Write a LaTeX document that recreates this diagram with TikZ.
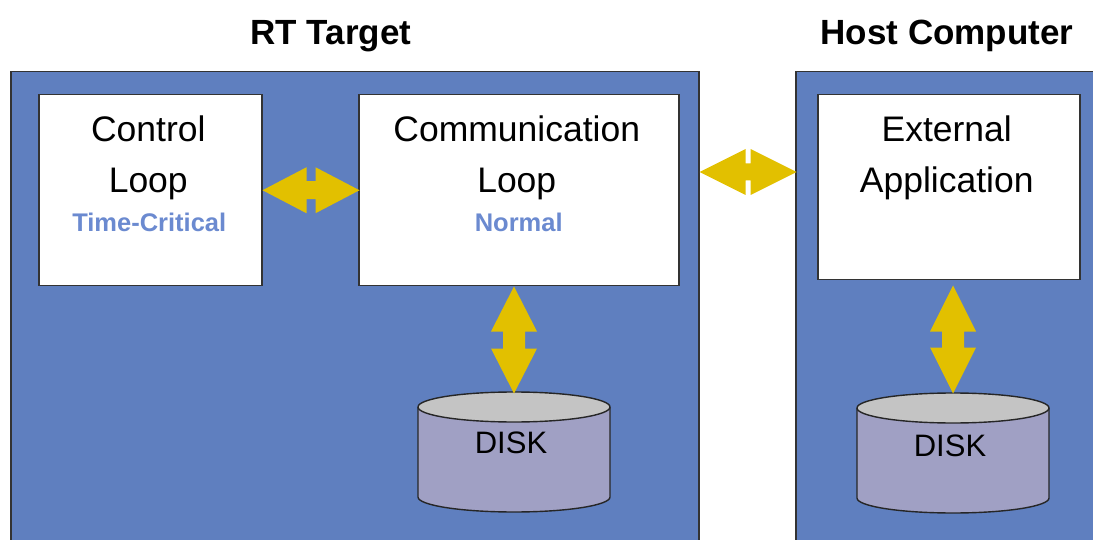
\documentclass[tikz,border=0pt]{standalone}
\usepackage{fontspec}
\setmainfont{Liberation Sans}
\usetikzlibrary{calc}
\definecolor{panelblue}{HTML}{5F7FBF}
\definecolor{arrowyellow}{HTML}{E2C000}
\definecolor{subblue}{HTML}{6B8AD0}
\definecolor{diskbody}{HTML}{A0A0C4}
\definecolor{disktop}{HTML}{C4C4C4}
\tikzset{
  panel/.style={draw=black!80, line width=1.5pt, fill=panelblue, anchor=north west, inner sep=0pt},
  loopbox/.style={draw=black!80, line width=1.5pt, fill=white, anchor=north west, inner sep=0pt},
  title/.style={font=\fontsize{35}{42}\selectfont\bfseries, anchor=base, inner sep=0pt},
  boxtext/.style={font=\fontsize{35.5}{51}\selectfont, align=center, anchor=north, inner sep=0pt},
  subtext/.style={font=\fontsize{25.5}{30}\selectfont\bfseries, text=subblue, anchor=base, inner sep=0pt},
  disklabel/.style={font=\fontsize{31}{36}\selectfont, anchor=base, inner sep=0pt},
  diskline/.style={draw=black!85, line width=1.4pt},
  % double-headed block arrow: length, head length, head half-width, shaft half-width
  pics/dblarrow/.style n args={4}{code={
    \fill[arrowyellow] (0,0) -- (#2,#3) -- (#2,#4) -- (#1-#2,#4) -- (#1-#2,#3) -- (#1,0)
      -- (#1-#2,-#3) -- (#1-#2,-#4) -- (#2,-#4) -- (#2,-#3) -- cycle;
  }},
  % disk cylinder, origin at the centre of the top face
  pics/disk/.style={code={
    \fill[diskbody] (-96,0) -- (-96,-90) arc[start angle=180, end angle=360, x radius=96, y radius=15] -- (96,0) -- cycle;
    \draw[diskline] (-96,0) -- (-96,-90) arc[start angle=180, end angle=360, x radius=96, y radius=15] -- (96,0);
    \filldraw[fill=disktop, diskline] (0,0) ellipse[x radius=96, y radius=15];
  }},
}
\begin{document}
\begin{tikzpicture}[x=1pt, y=1pt]
\useasboundingbox (0,0) rectangle (1093,-540);
\clip (0,0) rectangle (1093,-540);

% titles
\node[title] (rtT) at (331,-45) {RT Target};
\node[title] (hostT) at (947,-45) {Host Computer};

% panels
\node[panel, minimum width=688pt, minimum height=500pt] (rt) at (10,-71) {};
\node[panel, minimum width=320pt, minimum height=500pt] (host) at (795,-71) {};

% loop boxes
\node[loopbox, minimum width=223pt, minimum height=191pt] (ctrl) at (38,-94) {};
\node[loopbox, minimum width=320pt, minimum height=191pt] (comm) at (358,-94) {};
\node[loopbox, minimum width=262pt, minimum height=185pt] (ext) at (817,-94) {};

\node[boxtext] (ctrlT) at ([xshift=-2pt]ctrl.north |- 0,-116) {Control\\Loop};
\node[subtext] (ctrlS) at ([xshift=-1pt]ctrl.north |- 0,-232) {Time-Critical};
\node[boxtext] (commT) at ([xshift=-2pt]comm.north |- 0,-116) {Communication\\Loop};
\node[subtext] (commS) at (comm.north |- 0,-232) {Normal};
\node[boxtext] (extT) at ([xshift=-2pt]ext.north |- 0,-116) {External\\Application};

% disks
\pic at (514,-407) {disk};
\node[disklabel] (disk1) at (511,-453) {DISK};
\pic at (953,-408) {disk};
\node[disklabel] (disk2) at (950,-456) {DISK};

% block arrows
\pic at (ctrl.east) {dblarrow={97}{44}{23}{9}};
\pic at (rt.east |- 0,-172) {dblarrow={97}{46}{23}{8.5}};
\pic[rotate=-90] at (comm.south -| 514,0) {dblarrow={107}{45}{23}{11}};
\pic[rotate=-90] at ([yshift=-5pt]ext.south -| 953,0) {dblarrow={108}{46}{23}{11}};
\end{tikzpicture}
\end{document}
